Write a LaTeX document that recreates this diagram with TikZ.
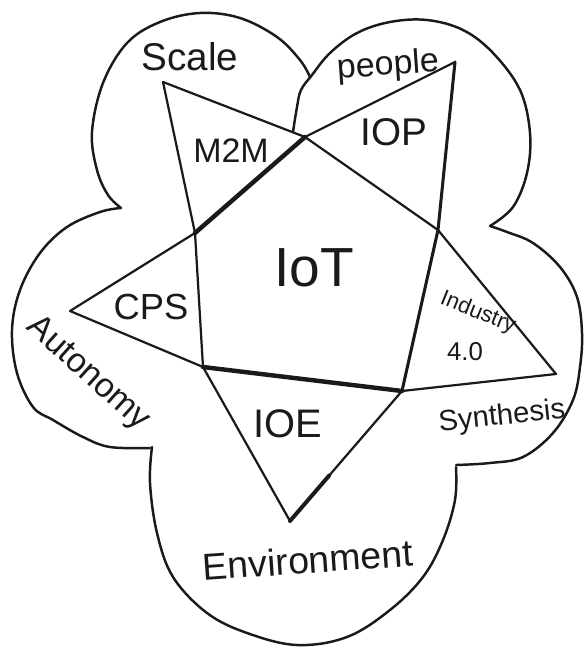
\documentclass[tikz,border=0pt]{standalone}
\usepackage{fontspec}
\setmainfont{Liberation Sans}
\usepackage{xcolor}
\usetikzlibrary{calc}
\definecolor{pen}{HTML}{1A1A1A}

\begin{document}
\begin{tikzpicture}[x=0.03cm, y=-0.03cm, line join=round, line cap=round,
    every node/.style={text=pen, inner sep=0pt},
    lobe/.style={draw=pen, line width=2.1pt},
    starline/.style={draw=pen, line width=1.9pt},
    boldline/.style={draw=pen, line width=3.8pt}]
  \useasboundingbox (0,0) rectangle (584,648);

  % outer flower, one lobe at a time
  \draw[lobe] plot[smooth, tension=0.6] coordinates {(121,208) (108,195) (97,170)
    (92,132) (103,83) (127,43) (160,22) (200,13) (240,18) (277,37) (300,60) (310,77)};
  \draw[lobe] plot[smooth, tension=0.6] coordinates {(293,132) (297,107) (301,90)
    (312,75) (330,53) (357,33) (390,22) (427,20) (463,30) (493,53) (520,90)
    (530,133) (527,173) (513,207) (490,226)};
  \draw[lobe] plot[smooth, tension=0.6] coordinates {(490,226) (507,232) (533,243)
    (560,267) (577,297) (582,333) (580,367) (573,400) (553,433) (523,457) (490,463)
    (456,465)};
  \draw[lobe] plot[smooth, tension=0.6] coordinates {(456,467) (455,500) (443,540)
    (423,577) (390,610) (347,637) (297,645) (247,633) (207,613) (173,577) (157,533)
    (150,483) (152,447)};
  \draw[lobe] plot[smooth, tension=0.6] coordinates {(121,208) (100,212) (67,227)
    (40,253) (20,290) (12,330) (17,373) (33,407) (53,420) (83,437) (110,447)
    (150,448)};

  % star points
  \coordinate (sA) at (163,82);
  \coordinate (sB) at (455,62);
  \coordinate (sC) at (556,374);
  \coordinate (sD) at (290,521);
  \coordinate (sE) at (70,311);
  \coordinate (p1) at (305,137);
  \coordinate (p2) at (438,230);
  \coordinate (p3) at (402,391);
  \coordinate (p4) at (203,367);
  \coordinate (p5) at (195,233);

  \draw[starline] (sA) -- (p1) -- (p2) -- (sC);
  \draw[starline] (sB) -- (p1);
  \draw[boldline] (p1) -- (p5);
  \draw[starline] (p5) -- (sE);
  \draw[starline] (sA) -- (p5) -- (p4) -- (sD);
  \draw[starline, line width=2.6pt] (sB) -- (p2) -- (p3);
  \draw[starline] (p3) -- (sD);
  \draw[boldline, line width=3.4pt] (sD) -- ($(sD)!0.35!(p3)$);
  \draw[starline] (sE) -- (p4);
  \draw[boldline] (p4) -- (p3);
  \draw[starline] (p3) -- (sC);

  % labels
  \node[font=\fontsize{33}{33}\selectfont] (scale) at (190,57) {Scale};
  \node[font=\fontsize{29}{29}\selectfont, rotate=4] (people) at (388,66) {people};
  \node[font=\fontsize{29}{29}\selectfont] (m2m) at (231,151) {M2M};
  \node[font=\fontsize{33}{33}\selectfont] (iop) at (394,132) {IOP};
  \node[font=\fontsize{47}{47}\selectfont] (iot) at (314,268) {IoT};
  \node[font=\fontsize{31}{31}\selectfont] (cps) at (151,307) {CPS};
  \node[font=\fontsize{19}{19}\selectfont, rotate=-22] (ind) at (478,313) {Industry};
  \node[font=\fontsize{22}{22}\selectfont] (four) at (465,352) {4.0};
  \node[font=\fontsize{34}{34}\selectfont] (ioe) at (288,424) {IOE};
  \node[font=\fontsize{25}{25}\selectfont, rotate=6] (syn) at (502,417) {Synthesis};
  \node[font=\fontsize{29}{29}\selectfont, rotate=-42] (auto) at (88,374) {Autonomy};
  \node[font=\fontsize{32}{32}\selectfont, rotate=4] (env) at (308,560) {Environment};
\end{tikzpicture}
\end{document}
